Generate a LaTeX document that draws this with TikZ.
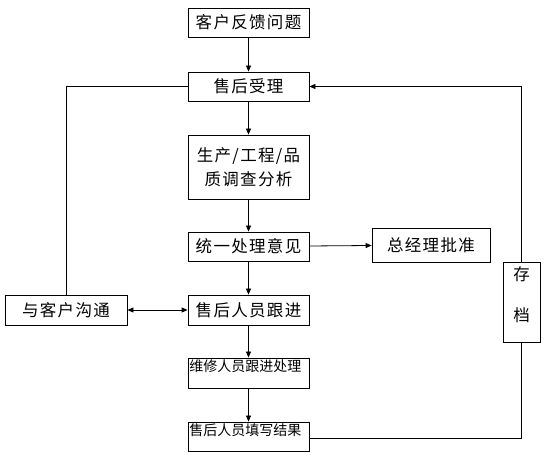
\documentclass[tikz,border=0pt]{standalone}
\usepackage{fontspec}
\newfontfamily\cjk{Noto Sans CJK SC}
\newfontfamily\cjksp[LetterSpace=8]{Noto Sans CJK SC}
\usetikzlibrary{arrows.meta}
\begin{document}
\begin{tikzpicture}[x=1pt,y=-1pt,
  box/.style={draw, line width=0.8pt, rectangle, minimum width=121pt, minimum height=29pt, inner sep=0pt, font=\cjksp\fontsize{16.5}{18}\selectfont},
  txt/.style={inner sep=0pt, font=\cjksp\fontsize{16.5}{18}\selectfont},
  ln/.style={line width=0.8pt},
  arr/.style={line width=0.8pt, -{Triangle[length=6pt,width=5pt]}},
  darr/.style={line width=0.8pt, {Triangle[length=6pt,width=5pt]}-{Triangle[length=6pt,width=5pt]}}]
\useasboundingbox (0,0) rectangle (547,462);
\node[box] (n1) at (248.5,22.5) {客户反馈问题};
\node[box] (n2) at (248.5,86.5) {售后受理};
\node[box, minimum height=64pt, align=center, font=\cjksp\fontsize{16.5}{24}\selectfont] (n3) at (248.5,167) {生产/工程/品\\质调查分析};
\node[box] (n4) at (248.5,246.5) {统一处理意见};
\node[box, minimum width=118pt, minimum height=34pt] (n5) at (431,245) {总经理批准};
\node[box, minimum width=37pt, minimum height=80pt] (n6) at (521.5,302) {};
\node[txt] (n6a) at (521.5,274) {存};
\node[txt] (n6b) at (521.5,315) {档};
\node[box, minimum width=122pt, minimum height=30pt] (n7) at (66,310) {与客户沟通};
\node[box, minimum height=30pt] (n8) at (248.5,310) {售后人员跟进};
\node[box, minimum height=30pt] (n9) at (248.5,373) {};
\node[txt, anchor=north west, font=\cjk\fontsize{14}{16}\selectfont] (n9t) at ([shift={(1.5,1.5)}]n9.north west) {维修人员跟进处理};
\node[box, minimum height=29pt] (n10) at (248.5,436.5) {};
\node[txt, anchor=north west, font=\cjk\fontsize{14}{16}\selectfont] (n10t) at ([shift={(1.5,1.5)}]n10.north west) {售后人员填写结果};
\draw[arr] (n1) -- (n2);
\draw[arr] (n2) -- (n3);
\draw[arr] (n3) -- (n4);
\draw[arr] (n4) -- (n8);
\draw[arr] (n8) -- (n9);
\draw[arr] (n9) -- (n10);
\draw[arr] (n4) -- (n5);
\draw[darr] (n7) -- (n8);
\draw[ln] (n2.west) -| (n7.north);
\draw[arr] (n6.north) |- (n2.east);
\draw[ln] ([yshift=-2pt]n10.east) -| (n6.south);
\end{tikzpicture}
\end{document}
